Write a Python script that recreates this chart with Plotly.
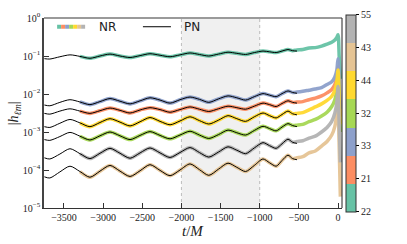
import numpy as np
import plotly.graph_objects as go

# ---------------- data (log10 |h_lm|) ----------------
t_pn = [-3750, -3680, -3552, -3423, -3296, -3168, -3040, -2912, -2784, -2656,
        -2528, -2401, -2273, -2145, -2018, -1890, -1770, -1650, -1528, -1405,
        -1292, -1180, -1069, -958, -874, -790, -715, -639, -580, -524]

modes = ["22", "21", "33", "32", "44", "43", "55"]
colors = ["#66c2a5", "#fc8d62", "#8da0cb", "#a6d854", "#ffd92f", "#e5c494", "#b3b3b3"]

pn_22 = [-1.07, -1.08, -1.02, -0.97, -1.01, -1.06, -1.00, -0.95, -1.00, -1.04,
         -0.99, -0.94, -0.98, -1.02, -0.97, -0.92, -0.96, -1.00, -0.95, -0.90,
         -0.93, -0.96, -0.91, -0.87, -0.89, -0.91, -0.87, -0.83, -0.86, -0.87]
pn_33 = [-2.29, -2.31, -2.22, -2.15, -2.21, -2.28, -2.20, -2.12, -2.19, -2.26,
         -2.18, -2.10, -2.16, -2.24, -2.15, -2.08, -2.14, -2.22, -2.13, -2.05,
         -2.10, -2.16, -2.07, -1.99, -2.03, -2.07, -1.99, -1.92, -1.96, -1.98]
pn_21 = [-2.51, -2.53, -2.45, -2.39, -2.45, -2.51, -2.44, -2.37, -2.43, -2.50,
         -2.42, -2.36, -2.41, -2.48, -2.41, -2.34, -2.40, -2.46, -2.39, -2.32,
         -2.36, -2.40, -2.32, -2.24, -2.28, -2.33, -2.25, -2.18, -2.22, -2.24]
pn_44 = [-2.86, -2.88, -2.77, -2.67, -2.76, -2.86, -2.75, -2.65, -2.74, -2.84,
         -2.73, -2.62, -2.72, -2.81, -2.71, -2.60, -2.70, -2.79, -2.69, -2.57,
         -2.65, -2.72, -2.60, -2.50, -2.57, -2.63, -2.54, -2.45, -2.52, -2.55]
pn_32 = [-3.20, -3.22, -3.12, -3.01, -3.11, -3.21, -3.10, -3.00, -3.10, -3.20,
         -3.09, -2.99, -3.09, -3.18, -3.08, -2.98, -3.08, -3.17, -3.07, -2.95,
         -3.02, -3.08, -2.96, -2.85, -2.91, -2.97, -2.87, -2.78, -2.83, -2.86]
pn_55 = [-3.68, -3.71, -3.58, -3.44, -3.57, -3.70, -3.56, -3.43, -3.56, -3.69,
         -3.55, -3.42, -3.55, -3.67, -3.54, -3.41, -3.54, -3.66, -3.53, -3.39,
         -3.48, -3.57, -3.42, -3.28, -3.36, -3.43, -3.31, -3.19, -3.27, -3.30]
pn_43 = [-4.18, -4.21, -4.05, -3.90, -4.04, -4.19, -4.03, -3.88, -4.03, -4.17,
         -4.02, -3.86, -4.01, -4.15, -4.00, -3.84, -3.99, -4.14, -3.98, -3.82,
         -3.93, -4.04, -3.88, -3.71, -3.81, -3.90, -3.75, -3.61, -3.70, -3.73]

# NR: overlaps PN from -3296 to -580, then late inspiral / merger / ringdown
nr_first, nr_last = 4, 29
t_nr_late = [-524, -450, -370, -290, -210, -140, -80, -40, -15, 0, 15, 30]
nr_late_22 = [-0.84, -0.83, -0.79, -0.78, -0.74, -0.69, -0.64, -0.58, -0.51, -0.44, -1.00, -1.60]
nr_late_21 = [-2.21, -2.20, -2.15, -2.11, -2.05, -1.97, -1.88, -1.75, -1.57, -1.29, -1.90, -2.60]
nr_late_33 = [-1.95, -1.93, -1.90, -1.87, -1.83, -1.75, -1.68, -1.55, -1.37, -1.07, -1.70, -2.40]
nr_late_32 = [-2.82, -2.80, -2.73, -2.67, -2.58, -2.48, -2.33, -2.15, -1.90, -1.50, -2.20, -3.00]
nr_late_44 = [-2.51, -2.49, -2.42, -2.34, -2.26, -2.17, -2.06, -1.90, -1.68, -1.37, -2.10, -2.80]
nr_late_43 = [-3.68, -3.65, -3.55, -3.50, -3.37, -3.25, -3.08, -2.85, -2.50, -2.06, -3.40, -4.70]
nr_late_55 = [-3.25, -3.23, -3.16, -3.11, -3.00, -2.88, -2.72, -2.50, -2.22, -1.80, -2.80, -3.80]

pn = {"22": pn_22, "21": pn_21, "33": pn_33, "32": pn_32, "44": pn_44, "43": pn_43, "55": pn_55}
nr_late = {"22": nr_late_22, "21": nr_late_21, "33": nr_late_33, "32": nr_late_32,
           "44": nr_late_44, "43": nr_late_43, "55": nr_late_55}

window = [-2000, -1000]
y_ticks = [1e-5, 1e-4, 1e-3, 1e-2, 1e-1, 1e0]
y_ticktext = ["10<sup>−5</sup>", "10<sup>−4</sup>", "10<sup>−3</sup>", "10<sup>−2</sup>",
              "10<sup>−1</sup>", "10<sup>0</sup>"]
x_ticks = [-3500, -3000, -2500, -2000, -1500, -1000, -500, 0]

# ---------------- figure ----------------
fig = go.Figure()
serif = "Liberation Serif"

for m, c in zip(modes, colors):
    t_nr = t_pn[nr_first:nr_last] + t_nr_late
    y_nr = pn[m][nr_first:nr_last] + nr_late[m]
    fig.add_trace(go.Scatter(x=t_nr, y=np.power(10.0, y_nr), mode="lines",
                             line=dict(color=c, width=3.5, shape="spline", smoothing=0.8),
                             opacity=0.95, showlegend=False, hoverinfo="skip"))

for m in modes:
    fig.add_trace(go.Scatter(x=t_pn, y=np.power(10.0, pn[m]), mode="lines",
                             line=dict(color="black", width=1, shape="spline", smoothing=0.8),
                             showlegend=False, hoverinfo="skip"))

# colorbar (discrete Set2 bands)
n = len(colors)
cs = []
for i, c in enumerate(colors):
    cs.append([i / n, c])
    cs.append([(i + 1) / n, c])
fig.add_trace(go.Scatter(
    x=[None], y=[None], mode="markers", showlegend=False, hoverinfo="skip",
    marker=dict(color=[0], colorscale=cs, cmin=0, cmax=1, showscale=True,
                colorbar=dict(x=1.0134, xanchor="left", xpad=0, y=0.5, yanchor="middle",
                              ypad=0, lenmode="pixels", len=197, thicknessmode="pixels",
                              thickness=10, outlinecolor="#333", outlinewidth=1,
                              tickvals=[i / (n - 1) for i in range(n)], ticktext=modes,
                              ticks="outside", ticklen=3, tickcolor="black",
                              tickfont=dict(family=serif, size=10, color="#222")))))

# shaded window
fig.add_shape(type="rect", xref="x", yref="paper", x0=window[0], x1=window[1], y0=0, y1=1,
              fillcolor="#f0f0f0", line=dict(width=0), layer="below")
for xv in window:
    fig.add_shape(type="line", xref="x", yref="paper", x0=xv, x1=xv, y0=0, y1=1,
                  line=dict(color="#bbbbbb", width=1, dash="dot"), layer="below")

# top spine (grey) and right spine
fig.add_shape(type="line", xref="paper", yref="paper", x0=0, x1=1, y0=1, y1=1,
              line=dict(color="#9a9a9a", width=2))
fig.add_shape(type="line", xref="paper", yref="paper", x0=1, x1=1, y0=0, y1=1,
              line=dict(color="#222", width=1))

# manual legend
lx0, lx1 = 0.044, 0.138
for i, c in enumerate(colors):
    a = lx0 + (lx1 - lx0) * i / n
    b = lx0 + (lx1 - lx0) * (i + 1) / n
    fig.add_shape(type="line", xref="paper", yref="paper", x0=a, x1=b, y0=0.954, y1=0.954,
                  line=dict(color=c, width=4))
fig.add_shape(type="line", xref="paper", yref="paper", x0=0.332, x1=0.426, y0=0.954, y1=0.954,
              line=dict(color="black", width=1))
fig.add_annotation(text="NR", xref="paper", yref="paper", x=0.178, y=0.954, xanchor="left",
                   yanchor="middle", showarrow=False, font=dict(family="DejaVu Sans", size=12, color="#222"))
fig.add_annotation(text="PN", xref="paper", yref="paper", x=0.463, y=0.954, xanchor="left",
                   yanchor="middle", showarrow=False, font=dict(family="DejaVu Sans", size=12, color="#222"))

# axis titles
fig.add_annotation(text="<i>t</i>/<i>M</i>", xref="paper", yref="paper", x=0.50, y=-0.122,
                   xanchor="center", yanchor="middle", showarrow=False,
                   font=dict(family=serif, size=15, color="#222"))
fig.add_annotation(text="|<i>h</i><sub><i>ℓm</i></sub>|", xref="paper", yref="paper",
                   x=-0.1, y=0.5, xanchor="center", yanchor="middle", textangle=-90,
                   showarrow=False, font=dict(family=serif, size=14, color="#222"))

fig.update_layout(
    width=407, height=244,
    margin=dict(l=44, r=65, t=11, b=36),
    paper_bgcolor="white", plot_bgcolor="white",
    xaxis=dict(range=[-3755, 51], tickvals=x_ticks, ticks="inside", ticklen=5,
               tickcolor="#333", showline=True, linecolor="#333", linewidth=1,
               showgrid=False, zeroline=False,
               tickfont=dict(family=serif, size=10, color="#222")),
    yaxis=dict(type="log", range=[-5, 0], tickvals=y_ticks, ticktext=y_ticktext,
               ticks="inside", ticklen=5, tickcolor="#333", showline=True, linecolor="#444",
               linewidth=1.5, showgrid=False, zeroline=False,
               tickfont=dict(family=serif, size=10, color="#222")),
)

fig.write_html("out.html", config={"displayModeBar": False},
               post_script="document.body.style.margin='0';document.body.style.overflow='hidden';")
